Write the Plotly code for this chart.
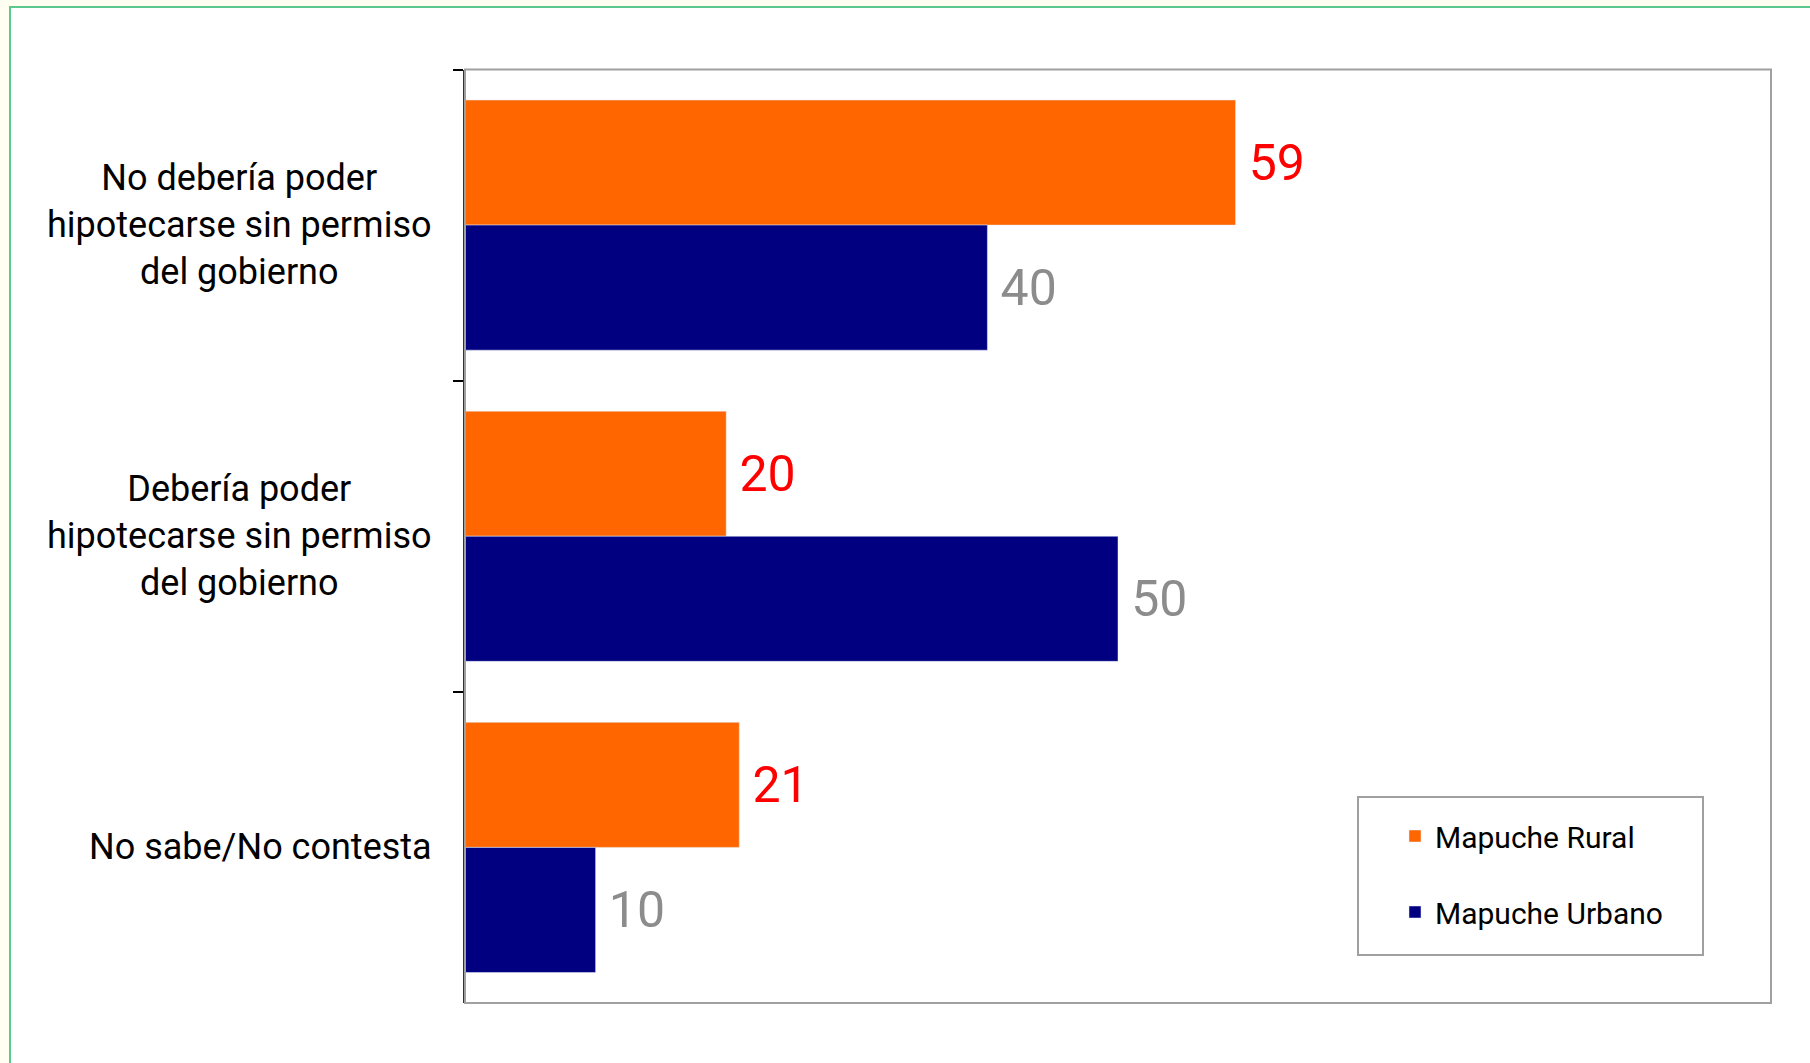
import plotly.graph_objs as go

W, H = 1810, 1063

categorias = [
    "No debería poder<br>hipotecarse sin permiso<br>del gobierno",
    "Debería poder<br>hipotecarse sin permiso<br>del gobierno",
    "No sabe/No contesta",
]
rural = [59, 20, 21]
urbano = [40, 50, 10]

FONT = "Tahoma, Roboto, sans-serif"

# plot area in pixels (left, right, top, bottom)
px_l, px_r, px_t, px_b = 465, 1771, 69.5, 1003

fig = go.Figure()

fig.add_trace(go.Bar(
    y=categorias, x=rural, orientation="h", name="Mapuche Rural",
    marker=dict(color="#FF6600"), legendgroup="r",
    text=["\u2009" + str(v) for v in rural], textposition="outside",
    textfont=dict(color="#FF0000", size=50, family=FONT),
    cliponaxis=False,
))
fig.add_trace(go.Bar(
    y=categorias, x=urbano, orientation="h", name="Mapuche Urbano",
    marker=dict(color="#000080"), legendgroup="u",
    text=["\u2009" + str(v) for v in urbano], textposition="outside",
    textfont=dict(color="#8C8C8C", size=50, family=FONT),
    cliponaxis=False,
))

# category labels, centred lines like the original
for c in categorias:
    fig.add_annotation(
        x=434 / W, xref="paper", xanchor="right",
        y=c, yref="y", yanchor="middle",
        text=c, showarrow=False, align="center",
        font=dict(size=36, color="black", family=FONT),
    )

shapes = [
    # page background with green frame
    dict(type="rect", xref="paper", yref="paper", x0=0, x1=1, y0=0, y1=1,
         fillcolor="#FFFEF0", line=dict(width=0), layer="below"),
    dict(type="rect", xref="paper", yref="paper", x0=10 / W, x1=1.01,
         y0=-0.01, y1=1 - 7 / H,
         fillcolor="white", line=dict(color="#5CC98C", width=2), layer="below"),
    # plot area frame
    dict(type="rect", xref="x domain", yref="y domain", x0=0, x1=1, y0=0, y1=1,
         line=dict(color="#A0A0A0", width=2), layer="above"),
    # legend box
    dict(type="rect", xref="paper", yref="paper",
         x0=1358 / W, x1=1703 / W, y0=1 - 955 / H, y1=1 - 797 / H,
         fillcolor="white", line=dict(color="#A0A0A0", width=2), layer="below"),
]

fig.update_layout(
    width=W, height=H,
    margin=dict(l=0, r=0, t=0, b=0),
    paper_bgcolor="white", plot_bgcolor="rgba(0,0,0,0)",
    barmode="group", bargap=0.196, bargroupgap=0,
    font=dict(family=FONT),
    shapes=shapes,
    showlegend=True,
    legend=dict(
        x=1395 / W, y=1 - 810 / H, xanchor="left", yanchor="top",
        bgcolor="rgba(0,0,0,0)", borderwidth=0,
        font=dict(size=30, color="black", family=FONT),
        traceorder="grouped", tracegroupgap=34,
    ),
    xaxis=dict(domain=[px_l / W, px_r / W], range=[0, 100],
               showgrid=False, zeroline=False, showticklabels=False,
               showline=False, ticks=""),
    yaxis=dict(domain=[1 - px_b / H, 1 - px_t / H], autorange="reversed",
               showgrid=False, showticklabels=False,
               showline=True, linecolor="#333333", linewidth=2,
               ticks="outside", tickson="boundaries", ticklen=10,
               tickcolor="black", tickwidth=2),
)

fig.write_html("out.html", config={"displayModeBar": False},
               post_script="document.body.style.margin='0';document.body.style.overflow='hidden';")
